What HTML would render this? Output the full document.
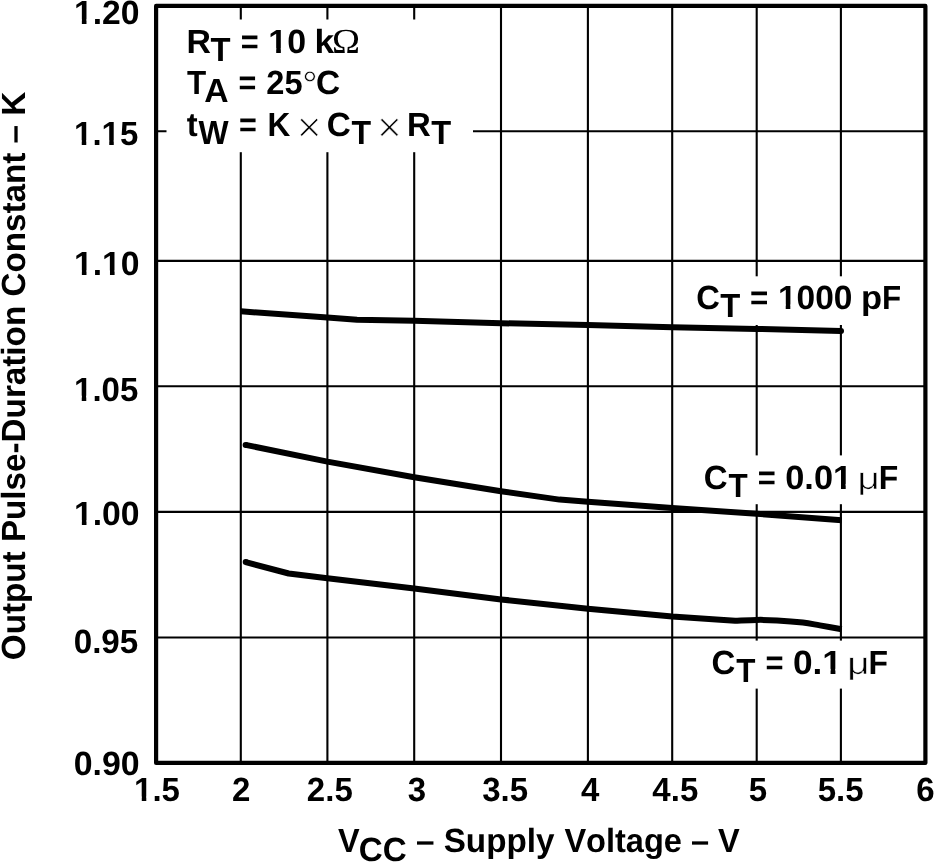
<!DOCTYPE html>
<html><head><meta charset="utf-8"><title>Output Pulse-Duration Constant vs Supply Voltage</title>
<style>
html,body{margin:0;padding:0;background:#fff;}
body{width:934px;height:863px;overflow:hidden;}
svg{display:block;}
text{font-family:"Liberation Sans",sans-serif;font-weight:bold;font-size:33.5px;fill:#000;font-kerning:none;text-rendering:geometricPrecision;}
.sy{font-family:"Liberation Serif",serif;font-weight:normal;}
.sr{font-weight:normal;}
</style></head><body>
<svg style="will-change:transform" width="934" height="863" viewBox="0 0 934 863">
<rect x="0" y="0" width="934" height="863" fill="#fff"/>
<g stroke="#000" stroke-width="2.1" fill="none"><line x1="240.8" y1="5.9" x2="240.8" y2="762.9"/><line x1="327.4" y1="5.9" x2="327.4" y2="762.9"/><line x1="414.2" y1="5.9" x2="414.2" y2="762.9"/><line x1="501.0" y1="5.9" x2="501.0" y2="762.9"/><line x1="587.9" y1="5.9" x2="587.9" y2="762.9"/><line x1="672.2" y1="5.9" x2="672.2" y2="762.9"/><line x1="756.7" y1="5.9" x2="756.7" y2="762.9"/><line x1="840.9" y1="5.9" x2="840.9" y2="762.9"/><line x1="156.1" y1="131.3" x2="925.4" y2="131.3"/><line x1="156.1" y1="260.9" x2="925.4" y2="260.9"/><line x1="156.1" y1="386.3" x2="925.4" y2="386.3"/><line x1="156.1" y1="511.9" x2="925.4" y2="511.9"/><line x1="156.1" y1="637.5" x2="925.4" y2="637.5"/></g>
<g fill="#fff"><rect x="166.5" y="19.5" width="306.5" height="132.7"/><rect x="690" y="276.3" width="225" height="48.7"/><rect x="690" y="455.4" width="225" height="48.8"/><rect x="690" y="640.6" width="225" height="48"/></g>
<path d="M240.8,311.3 L327.4,317.5 L357,319.8 L414.2,320.8 L501,323.2 L587.9,325.0 L672.2,327.3 L756.7,328.9 L841.0,330.9" fill="none" stroke="#000" stroke-width="6" stroke-linejoin="round" stroke-linecap="butt"/><circle cx="841.0" cy="330.9" r="3" fill="#000"/><path d="M245.6,444.9 L327.4,461.6 L414.2,477.3 L501,491.3 L559.5,499.6 L587.9,501.7 L672.2,508.0 L756.7,513.8 L841.7,520.3" fill="none" stroke="#000" stroke-width="6" stroke-linejoin="round" stroke-linecap="butt"/><circle cx="245.6" cy="444.9" r="3" fill="#000"/><path d="M245.7,562.1 L288.7,573.5 L327.4,578.3 L414.2,588.4 L501,599.4 L587.9,608.8 L672.2,616.5 L720,619.7 L735.1,620.7 C738.7,620.6 749.7,620.0 756.7,619.9 C763.7,619.8 769.4,619.9 777.1,620.4 C784.8,620.9 795.7,621.8 802.8,622.6 C809.9,623.4 813.4,624.3 819.9,625.4 C826.4,626.5 838.1,628.6 841.7,629.2" fill="none" stroke="#000" stroke-width="6" stroke-linejoin="round" stroke-linecap="butt"/><circle cx="245.7" cy="562.1" r="3" fill="#000"/>
<rect x="156.1" y="5.9" width="769.3" height="757" fill="none" stroke="#000" stroke-width="4.2" stroke-linejoin="round"/>
<text transform="translate(74,24.2) scale(1.0059,1)">1.20</text><rect x="74.98" y="19.37" width="6.88" height="5.63" fill="#fff"/><rect x="86.49" y="19.37" width="6.25" height="5.63" fill="#fff"/><text transform="translate(74.05,145.2) scale(0.9842,1)">1.15</text><rect x="75.01" y="140.37" width="6.73" height="5.63" fill="#fff"/><rect x="86.27" y="140.37" width="6.12" height="5.63" fill="#fff"/><rect x="102.51" y="140.37" width="6.73" height="5.63" fill="#fff"/><rect x="113.76" y="140.37" width="6.12" height="5.63" fill="#fff"/><text transform="translate(74,275.3) scale(1.0059,1)">1.10</text><rect x="74.98" y="270.47" width="6.88" height="5.63" fill="#fff"/><rect x="86.49" y="270.47" width="6.25" height="5.63" fill="#fff"/><rect x="103.09" y="270.47" width="6.88" height="5.63" fill="#fff"/><rect x="114.59" y="270.47" width="6.25" height="5.63" fill="#fff"/><text transform="translate(74.05,400.5) scale(0.9842,1)">1.05</text><rect x="75.01" y="395.67" width="6.73" height="5.63" fill="#fff"/><rect x="86.27" y="395.67" width="6.12" height="5.63" fill="#fff"/><text transform="translate(74,525.2) scale(1.0059,1)">1.00</text><rect x="74.98" y="520.37" width="6.88" height="5.63" fill="#fff"/><rect x="86.49" y="520.37" width="6.25" height="5.63" fill="#fff"/><text transform="translate(73.69,652.8) scale(0.9898,1)">0.95</text><text transform="translate(73.66,774.5) scale(1.0112,1)">0.90</text>
<text transform="translate(134.06,801.4) scale(0.9851,1)">1.5</text><rect x="135.03" y="796.57" width="6.74" height="5.63" fill="#fff"/><rect x="146.29" y="796.57" width="6.12" height="5.63" fill="#fff"/><text transform="translate(231.92,801.4) scale(0.9851,1)">2</text><text transform="translate(306.86,801.4) scale(0.9851,1)">2.5</text><text transform="translate(407.82,801.4) scale(0.9851,1)">3</text><text transform="translate(482.26,801.4) scale(0.9851,1)">3.5</text><text transform="translate(580.92,801.4) scale(0.9851,1)">4</text><text transform="translate(652.36,801.4) scale(0.9851,1)">4.5</text><text transform="translate(748.82,801.4) scale(0.9851,1)">5</text><text transform="translate(817.76,801.4) scale(0.9851,1)">5.5</text><text transform="translate(916.32,801.4) scale(0.9851,1)">6</text>
<text transform="translate(337.98,852.2) scale(0.9686,1)">V</text><text transform="translate(358.84,860.6) scale(0.9914,1)">CC</text><text transform="translate(415.99,852.2) scale(0.9919,1)">– Supply</text><text transform="translate(564.38,852.2) scale(0.9715,1)">Voltage – V</text>
<text transform="translate(25.2,660.2) rotate(-90) scale(0.9918,1)">Output Pulse-Duration Constant – K</text>
<text transform="translate(186.43,52.8) scale(1.0111,1)">R</text><text transform="translate(210.43,60.6) scale(0.9784,1)">T</text><text transform="translate(240.83,52.8) scale(0.9167,1)">=</text><text transform="translate(268.28,52.8) scale(1.0120,1)">10</text><rect x="269.28" y="47.97" width="6.92" height="5.63" fill="#fff"/><rect x="280.85" y="47.97" width="6.29" height="5.63" fill="#fff"/><text transform="translate(314.54,52.8) scale(1.0536,1)">k</text><text transform="translate(332.05,52.8) scale(1.0673,1)" class="sy" style="font-size:35.3px">Ω</text>
<text transform="translate(186.95,94.3) scale(0.9378,1)">T</text><text transform="translate(204.26,102.1) scale(1.0056,1)">A</text><text transform="translate(238.43,94.3) scale(0.9108,1)">=</text><text transform="translate(266.27,94.3) scale(0.9725,1)">25</text><text transform="translate(302.32,97.95) scale(0.9962,1)" class="sr" stroke="#fff" stroke-width="0.6" style="font-size:38.5px">°</text><text transform="translate(316.03,94.3) scale(0.9999,1)">C</text>
<text transform="translate(186.8,135.7) scale(0.9770,1)">t</text><text transform="translate(198.47,143.5) scale(0.9508,1)">W</text><text transform="translate(238.93,135.7) scale(0.9108,1)">=</text><text transform="translate(267.49,135.7) scale(0.9427,1)">K</text><text transform="translate(296.67,141.75) scale(1.0002,1)" class="sy" stroke="#fff" stroke-width="0.5" style="font-size:44px">×</text><text transform="translate(326.63,135.7) scale(0.9953,1)">C</text><text transform="translate(351.44,143.5) scale(0.9581,1)">T</text><text transform="translate(377.02,141.75) scale(1.0002,1)" class="sy" stroke="#fff" stroke-width="0.5" style="font-size:44px">×</text><text transform="translate(407,135.7) scale(0.9829,1)">R</text><text transform="translate(431.23,143.5) scale(0.9733,1)">T</text>
<text transform="translate(696.16,309.4) scale(0.9771,1)">C</text><text transform="translate(720.23,317.4) scale(0.9784,1)">T</text><text transform="translate(750.1,309.4) scale(0.9346,1)">=</text><text transform="translate(777.91,309.4) scale(0.9991,1)">1000</text><rect x="778.89" y="304.57" width="6.83" height="5.63" fill="#fff"/><rect x="790.32" y="304.57" width="6.21" height="5.63" fill="#fff"/><text transform="translate(860.92,309.4) scale(1.0308,1)">p</text><text transform="translate(882.1,309.4) scale(0.9355,1)">F</text>
<text transform="translate(703.84,488.8) scale(0.9862,1)">C</text><text transform="translate(728.45,496.8) scale(0.9378,1)">T</text><text transform="translate(757.82,488.8) scale(0.9227,1)">=</text><text transform="translate(785.24,488.8) scale(1.0250,1)">0.01</text><rect x="833.98" y="483.97" width="7.01" height="5.63" fill="#fff"/><rect x="845.7" y="483.97" width="6.37" height="5.63" fill="#fff"/><text transform="translate(857.6,488.8) scale(1.2443,1)" class="sr" stroke="#fff" stroke-width="0.5" style="font-size:31px">μ</text><text transform="translate(878.76,488.8) scale(0.9532,1)">F</text>
<text transform="translate(711.54,673.7) scale(0.9862,1)">C</text><text transform="translate(736.15,681.7) scale(0.9378,1)">T</text><text transform="translate(765.52,673.7) scale(0.9227,1)">=</text><text transform="translate(792.9,673.7) scale(1.0531,1)">0.1</text><rect x="823.36" y="668.87" width="7.2" height="5.63" fill="#fff"/><rect x="835.4" y="668.87" width="6.55" height="5.63" fill="#fff"/><text transform="translate(847.3,673.7) scale(1.2443,1)" class="sr" stroke="#fff" stroke-width="0.5" style="font-size:31px">μ</text><text transform="translate(868.46,673.7) scale(0.9532,1)">F</text>
</svg></body></html>
